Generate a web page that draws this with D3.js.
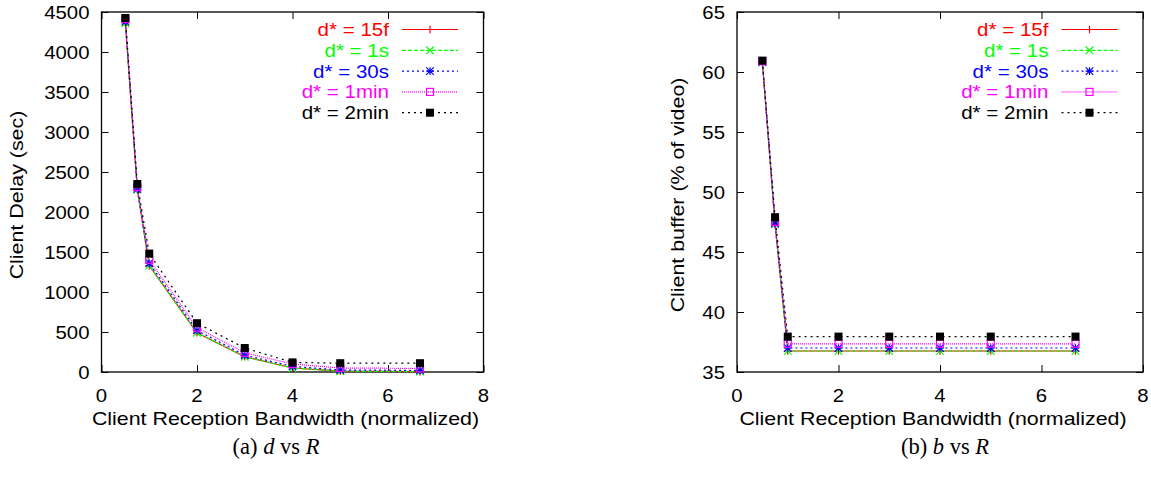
<!DOCTYPE html>
<html>
<head>
<meta charset="utf-8">
<script src="https://cdn.jsdelivr.net/npm/d3@7"></script>
<style>
  html, body { margin: 0; padding: 0; background: #fff; }
  svg text { font-family: "Liberation Sans", Arial, sans-serif; }
</style>
</head>
<body>
<div id="chart"></div>
<script>
// reception bandwidth (normalized)
const bandwidth = [0.5, 0.75, 1, 2, 3, 4, 5, 6.67];
const seriesNames = ["d* = 15f", "d* = 1s", "d* = 30s", "d* = 1min", "d* = 2min"];

// client delay (sec)
const delay15f  = [4360, 2280, 1330, 490, 190, 50, 10, 5];
const delay1s   = [4360, 2280, 1330, 490, 190, 50, 10, 5];
const delay30s  = [4380, 2290, 1360, 520, 210, 70, 25, 20];
const delay1min = [4415, 2310, 1400, 555, 240, 100, 50, 45];
const delay2min = [4425, 2350, 1480, 610, 300, 120, 110, 110];

// client buffer (% of video)
const buffer15f  = [60.8, 47.3, 36.75, 36.75, 36.75, 36.75, 36.75, 36.75];
const buffer1s   = [60.8, 47.3, 36.75, 36.75, 36.75, 36.75, 36.75, 36.75];
const buffer30s  = [60.85, 47.4, 37.0, 37.0, 37.0, 37.0, 37.0, 37.0];
const buffer1min = [60.9, 47.5, 37.35, 37.35, 37.35, 37.35, 37.35, 37.35];
const buffer2min = [60.95, 47.9, 37.95, 37.95, 37.95, 37.95, 37.95, 37.95];

const xTicks = [0, 2, 4, 6, 8];
const delayTicks = [0, 500, 1000, 1500, 2000, 2500, 3000, 3500, 4000, 4500];
const bufferTicks = [35, 40, 45, 50, 55, 60, 65];

const STYLES = [
  { color: "#ff0000", dash: null,  marker: "plus" },
  { color: "#00ff00", dash: "4,2", marker: "cross" },
  { color: "#0000ff", dash: "2,3", marker: "star" },
  { color: "#ff00ff", dash: "1,1", marker: "openSquare" },
  { color: "#000000", dash: "2,4", marker: "square" }
];

const FONT = 18.5;

const svg = d3.select("#chart").append("svg")
    .attr("width", 1151)
    .attr("height", 491);

// gnuplot's postscript fonts come out wider than Liberation Sans
const stretch = k => sel => sel.each(function () {
  const len = this.getComputedTextLength();
  d3.select(this).attr("textLength", len * k).attr("lengthAdjust", "spacingAndGlyphs");
});

const drawMarker = (g, type, x, y, color) => {
  const s = 3.8;
  if (type === "plus") {
    g.append("path").attr("d", `M${x - s},${y}H${x + s}M${x},${y - s}V${y + s}`)
      .attr("stroke", color).attr("stroke-width", 1.2);
  } else if (type === "cross") {
    g.append("path").attr("d", `M${x - s},${y - s}L${x + s},${y + s}M${x - s},${y + s}L${x + s},${y - s}`)
      .attr("stroke", color).attr("stroke-width", 1.2);
  } else if (type === "star") {
    g.append("path").attr("d", `M${x - s},${y}H${x + s}M${x},${y - s}V${y + s}M${x - s},${y - s}L${x + s},${y + s}M${x - s},${y + s}L${x + s},${y - s}`)
      .attr("stroke", color).attr("stroke-width", 1.2);
  } else if (type === "openSquare") {
    g.append("rect").attr("x", x - 3.5).attr("y", y - 3.5).attr("width", 7).attr("height", 7)
      .attr("fill", "none").attr("stroke", color).attr("stroke-width", 1.2);
  } else {
    g.append("rect").attr("x", x - 4).attr("y", y - 4).attr("width", 8).attr("height", 8)
      .attr("fill", color);
  }
};

function drawPanel(opt) {
  const x = d3.scaleLinear().domain([0, 8]).range([opt.left, opt.right]);
  const y = d3.scaleLinear().domain(opt.yDomain).range([372, 12]);
  const g = svg.append("g");

  // inward ticks on all four sides
  const tick = 7;
  g.append("g").attr("transform", "translate(0,372)")
    .call(d3.axisBottom(x).tickValues(xTicks).tickSize(-tick).tickFormat(""));
  g.append("g").attr("transform", "translate(0,12)")
    .call(d3.axisTop(x).tickValues(xTicks).tickSize(-tick).tickFormat(""));
  g.append("g").attr("transform", `translate(${opt.left},0)`)
    .call(d3.axisLeft(y).tickValues(opt.yTicks).tickSize(-tick).tickFormat(""));
  g.append("g").attr("transform", `translate(${opt.right},0)`)
    .call(d3.axisRight(y).tickValues(opt.yTicks).tickSize(-tick).tickFormat(""));
  g.selectAll(".domain").remove();
  g.selectAll(".tick line").attr("stroke", "#000").attr("stroke-width", 1);

  g.append("rect")
    .attr("x", opt.left).attr("y", 12)
    .attr("width", opt.right - opt.left).attr("height", 360)
    .attr("fill", "none").attr("stroke", "#000").attr("stroke-width", 1.3);

  g.selectAll(".xlab").data(xTicks).join("text")
    .attr("x", d => x(d)).attr("y", 402)
    .attr("text-anchor", "middle").attr("font-size", FONT)
    .text(d => d).call(stretch(1.1));

  g.selectAll(".ylab").data(opt.yTicks).join("text")
    .attr("x", opt.left - 12).attr("y", d => y(d) + 6.5)
    .attr("text-anchor", "end").attr("font-size", FONT)
    .text(d => d).call(stretch(1.1));

  g.append("text")
    .attr("x", (opt.left + opt.right) / 2 - 7).attr("y", 425)
    .attr("text-anchor", "middle").attr("font-size", FONT)
    .text("Client Reception Bandwidth (normalized)").call(stretch(1.155));

  g.append("text")
    .attr("transform", `translate(${opt.yLabelX},${opt.yLabelY}) rotate(-90)`)
    .attr("text-anchor", "middle").attr("font-size", FONT)
    .text(opt.yLabel).call(stretch(1.155));

  // series
  const line = d3.line().x(d => x(d[0])).y(d => y(d[1]));
  opt.series.forEach((vals, i) => {
    const st = STYLES[i];
    const pts = bandwidth.map((b, j) => [b, vals[j]]);
    const sg = g.append("g");
    sg.append("path").datum(pts)
      .attr("d", line).attr("fill", "none")
      .attr("stroke", st.color).attr("stroke-width", 1.2)
      .attr("stroke-dasharray", st.dash);
    pts.forEach(p => drawMarker(sg, st.marker, x(p[0]), y(p[1]), st.color));
  });

  // legend
  const textEnd = opt.right - 94.5;
  seriesNames.forEach((name, i) => {
    const st = STYLES[i];
    const ly = 29.5 + 20.8 * i;
    g.append("text")
      .attr("x", textEnd).attr("y", ly + 6.5)
      .attr("text-anchor", "end").attr("font-size", FONT)
      .attr("fill", st.color)
      .text(name).call(stretch(1.11));
    g.append("line")
      .attr("x1", textEnd + 13).attr("x2", textEnd + 69)
      .attr("y1", ly).attr("y2", ly)
      .attr("stroke", st.color).attr("stroke-width", 1.2)
      .attr("stroke-dasharray", st.dash);
    drawMarker(g, st.marker, textEnd + 41, ly, st.color);
  });

  // caption
  const cap = svg.append("text")
    .attr("x", opt.captionX).attr("y", 454)
    .attr("text-anchor", "middle")
    .style("font-family", "'Liberation Serif', 'Times New Roman', serif")
    .attr("font-size", 22.5);
  cap.append("tspan").text(`(${opt.tag}) `);
  cap.append("tspan").attr("font-style", "italic").text(opt.var);
  cap.append("tspan").text(" vs ");
  cap.append("tspan").attr("font-style", "italic").text("R");
}

drawPanel({
  left: 101.5, right: 483.5,
  yDomain: [0, 4500], yTicks: delayTicks,
  yLabelX: 23, yLabelY: 195,
  yLabel: "Client Delay (sec)",
  series: [delay15f, delay1s, delay30s, delay1min, delay2min],
  captionX: 276, tag: "a", var: "d"
});

drawPanel({
  left: 737, right: 1143,
  yDomain: [35, 65], yTicks: bufferTicks,
  yLabelX: 684, yLabelY: 195,
  yLabel: "Client buffer (% of video)",
  series: [buffer15f, buffer1s, buffer30s, buffer1min, buffer2min],
  captionX: 945, tag: "b", var: "b"
});
</script>
</body>
</html>
